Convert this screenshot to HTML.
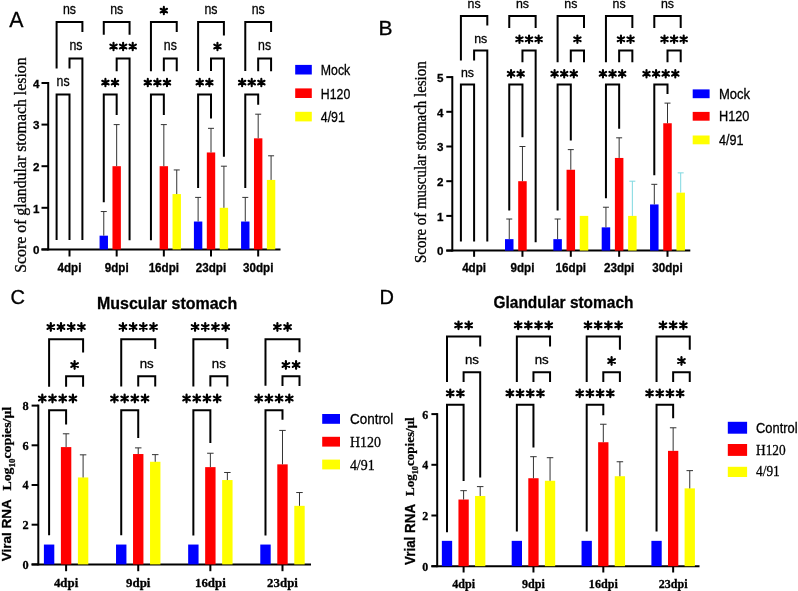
<!DOCTYPE html>
<html><head><meta charset="utf-8"><title>figure</title>
<style>html,body{margin:0;padding:0;background:#fff;}svg{display:block;will-change:transform;}text{stroke:#000;stroke-width:0.3px;}</style></head>
<body><svg width="798" height="591" viewBox="0 0 798 591">
<rect width="798" height="591" fill="#fff"/>
<line x1="48.2" y1="82" x2="48.2" y2="250.4" stroke="#000" stroke-width="2.0"/>
<line x1="41.5" y1="249.4" x2="48.2" y2="249.4" stroke="#000" stroke-width="2.0"/>
<text x="39.4" y="254.1" font-family='"Liberation Sans", sans-serif' font-size="11.6" font-weight="bold" text-anchor="end" >0</text>
<line x1="41.5" y1="207.8" x2="48.2" y2="207.8" stroke="#000" stroke-width="2.0"/>
<text x="39.4" y="212.5" font-family='"Liberation Sans", sans-serif' font-size="11.6" font-weight="bold" text-anchor="end" >1</text>
<line x1="41.5" y1="166.2" x2="48.2" y2="166.2" stroke="#000" stroke-width="2.0"/>
<text x="39.4" y="170.9" font-family='"Liberation Sans", sans-serif' font-size="11.6" font-weight="bold" text-anchor="end" >2</text>
<line x1="41.5" y1="124.6" x2="48.2" y2="124.6" stroke="#000" stroke-width="2.0"/>
<text x="39.4" y="129.3" font-family='"Liberation Sans", sans-serif' font-size="11.6" font-weight="bold" text-anchor="end" >3</text>
<line x1="41.5" y1="83" x2="48.2" y2="83" stroke="#000" stroke-width="2.0"/>
<text x="39.4" y="87.7" font-family='"Liberation Sans", sans-serif' font-size="11.6" font-weight="bold" text-anchor="end" >4</text>
<line x1="41.5" y1="249.4" x2="280.5" y2="249.4" stroke="#000" stroke-width="2.0"/>
<line x1="69.5" y1="249.4" x2="69.5" y2="256.5" stroke="#000" stroke-width="2.0"/>
<text transform="translate(69.5,271.9) scale(0.97,1)" font-family='"Liberation Sans", sans-serif' font-size="12" font-weight="bold" text-anchor="middle" >4dpi</text>
<line x1="116.67" y1="249.4" x2="116.67" y2="256.5" stroke="#000" stroke-width="2.0"/>
<text transform="translate(116.67,271.9) scale(0.97,1)" font-family='"Liberation Sans", sans-serif' font-size="12" font-weight="bold" text-anchor="middle" >9dpi</text>
<line x1="163.84" y1="249.4" x2="163.84" y2="256.5" stroke="#000" stroke-width="2.0"/>
<text transform="translate(163.84,271.9) scale(0.97,1)" font-family='"Liberation Sans", sans-serif' font-size="12" font-weight="bold" text-anchor="middle" >16dpi</text>
<line x1="211.01" y1="249.4" x2="211.01" y2="256.5" stroke="#000" stroke-width="2.0"/>
<text transform="translate(211.01,271.9) scale(0.97,1)" font-family='"Liberation Sans", sans-serif' font-size="12" font-weight="bold" text-anchor="middle" >23dpi</text>
<line x1="258.18" y1="249.4" x2="258.18" y2="256.5" stroke="#000" stroke-width="2.0"/>
<text transform="translate(258.18,271.9) scale(0.97,1)" font-family='"Liberation Sans", sans-serif' font-size="12" font-weight="bold" text-anchor="middle" >30dpi</text>
<rect x="99.57" y="235.67" width="8.4" height="13.73" fill="#0000FF"/>
<line x1="103.77" y1="235.67" x2="103.77" y2="211.54" stroke="#333333" stroke-width="1.0"/>
<line x1="100.77" y1="211.54" x2="106.77" y2="211.54" stroke="#333333" stroke-width="1.0"/>
<rect x="112.47" y="166.2" width="8.4" height="83.2" fill="#FF0000"/>
<line x1="116.67" y1="166.2" x2="116.67" y2="124.6" stroke="#333333" stroke-width="1.0"/>
<line x1="113.67" y1="124.6" x2="119.67" y2="124.6" stroke="#333333" stroke-width="1.0"/>
<rect x="159.64" y="166.2" width="8.4" height="83.2" fill="#FF0000"/>
<line x1="163.84" y1="166.2" x2="163.84" y2="124.6" stroke="#333333" stroke-width="1.0"/>
<line x1="160.84" y1="124.6" x2="166.84" y2="124.6" stroke="#333333" stroke-width="1.0"/>
<rect x="172.54" y="194.07" width="8.4" height="55.33" fill="#FFFF00"/>
<line x1="176.74" y1="194.07" x2="176.74" y2="169.94" stroke="#333333" stroke-width="1.0"/>
<line x1="173.74" y1="169.94" x2="179.74" y2="169.94" stroke="#333333" stroke-width="1.0"/>
<rect x="193.91" y="221.53" width="8.4" height="27.87" fill="#0000FF"/>
<line x1="198.11" y1="221.53" x2="198.11" y2="197.4" stroke="#333333" stroke-width="1.0"/>
<line x1="195.11" y1="197.4" x2="201.11" y2="197.4" stroke="#333333" stroke-width="1.0"/>
<rect x="206.81" y="152.47" width="8.4" height="96.93" fill="#FF0000"/>
<line x1="211.01" y1="152.47" x2="211.01" y2="128.34" stroke="#333333" stroke-width="1.0"/>
<line x1="208.01" y1="128.34" x2="214.01" y2="128.34" stroke="#333333" stroke-width="1.0"/>
<rect x="219.71" y="207.8" width="8.4" height="41.6" fill="#FFFF00"/>
<line x1="223.91" y1="207.8" x2="223.91" y2="166.2" stroke="#333333" stroke-width="1.0"/>
<line x1="220.91" y1="166.2" x2="226.91" y2="166.2" stroke="#333333" stroke-width="1.0"/>
<rect x="241.08" y="221.53" width="8.4" height="27.87" fill="#0000FF"/>
<line x1="245.28" y1="221.53" x2="245.28" y2="197.4" stroke="#333333" stroke-width="1.0"/>
<line x1="242.28" y1="197.4" x2="248.28" y2="197.4" stroke="#333333" stroke-width="1.0"/>
<rect x="253.98" y="138.33" width="8.4" height="111.07" fill="#FF0000"/>
<line x1="258.18" y1="138.33" x2="258.18" y2="114.2" stroke="#333333" stroke-width="1.0"/>
<line x1="255.18" y1="114.2" x2="261.18" y2="114.2" stroke="#333333" stroke-width="1.0"/>
<rect x="266.88" y="179.93" width="8.4" height="69.47" fill="#FFFF00"/>
<line x1="271.08" y1="179.93" x2="271.08" y2="155.8" stroke="#333333" stroke-width="1.0"/>
<line x1="268.08" y1="155.8" x2="274.08" y2="155.8" stroke="#333333" stroke-width="1.0"/>
<path d="M56.6 68.4V22H82.4V32" fill="none" stroke="#000" stroke-width="2.0" stroke-linejoin="miter"/>
<path d="M69.5 68.4V58.6H82.4V240" fill="none" stroke="#000" stroke-width="2.0" stroke-linejoin="miter"/>
<path d="M56.6 240V94.5H69.5V240" fill="none" stroke="#000" stroke-width="2.0" stroke-linejoin="miter"/>
<text transform="translate(69.5,13.6) scale(0.87,1)" font-family='"Liberation Sans", sans-serif' font-size="14.2" font-weight="normal" text-anchor="middle" >ns</text>
<text transform="translate(75.95,49.7) scale(0.87,1)" font-family='"Liberation Sans", sans-serif' font-size="14.2" font-weight="normal" text-anchor="middle" >ns</text>
<text transform="translate(63.05,85.8) scale(0.87,1)" font-family='"Liberation Sans", sans-serif' font-size="14.2" font-weight="normal" text-anchor="middle" >ns</text>
<path d="M103.77 34.7V22H129.57V34.7" fill="none" stroke="#000" stroke-width="2.0" stroke-linejoin="miter"/>
<path d="M116.67 71.2V58.6H129.57V240.2" fill="none" stroke="#000" stroke-width="2.0" stroke-linejoin="miter"/>
<path d="M103.77 202.2V94.5H116.67V114.9" fill="none" stroke="#000" stroke-width="2.0" stroke-linejoin="miter"/>
<text transform="translate(116.67,13.6) scale(0.87,1)" font-family='"Liberation Sans", sans-serif' font-size="14.2" font-weight="normal" text-anchor="middle" >ns</text>
<path d="M113.52 42.8L113.52 50.2M110.32 44.65L116.72 48.35M116.72 44.65L110.32 48.35" stroke="#000" stroke-width="2.1" stroke-linecap="round" fill="none"/>
<path d="M123.12 42.8L123.12 50.2M119.92 44.65L126.32 48.35M126.32 44.65L119.92 48.35" stroke="#000" stroke-width="2.1" stroke-linecap="round" fill="none"/>
<path d="M132.72 42.8L132.72 50.2M129.52 44.65L135.92 48.35M135.92 44.65L129.52 48.35" stroke="#000" stroke-width="2.1" stroke-linecap="round" fill="none"/>
<path d="M105.42 78.9L105.42 86.3M102.22 80.75L108.62 84.45M108.62 80.75L102.22 84.45" stroke="#000" stroke-width="2.1" stroke-linecap="round" fill="none"/>
<path d="M115.02 78.9L115.02 86.3M111.82 80.75L118.22 84.45M118.22 80.75L111.82 84.45" stroke="#000" stroke-width="2.1" stroke-linecap="round" fill="none"/>
<path d="M150.94 71.3V22H176.74V32" fill="none" stroke="#000" stroke-width="2.0" stroke-linejoin="miter"/>
<path d="M163.84 71.3V58.6H176.74V71.3" fill="none" stroke="#000" stroke-width="2.0" stroke-linejoin="miter"/>
<path d="M150.94 240.2V94.5H163.84V115" fill="none" stroke="#000" stroke-width="2.0" stroke-linejoin="miter"/>
<path d="M163.84 6.9L163.84 14.3M160.64 8.75L167.04 12.45M167.04 8.75L160.64 12.45" stroke="#000" stroke-width="2.1" stroke-linecap="round" fill="none"/>
<text transform="translate(170.29,49.7) scale(0.87,1)" font-family='"Liberation Sans", sans-serif' font-size="14.2" font-weight="normal" text-anchor="middle" >ns</text>
<path d="M147.79 78.9L147.79 86.3M144.59 80.75L150.99 84.45M150.99 80.75L144.59 84.45" stroke="#000" stroke-width="2.1" stroke-linecap="round" fill="none"/>
<path d="M157.39 78.9L157.39 86.3M154.19 80.75L160.59 84.45M160.59 80.75L154.19 84.45" stroke="#000" stroke-width="2.1" stroke-linecap="round" fill="none"/>
<path d="M166.99 78.9L166.99 86.3M163.79 80.75L170.19 84.45M170.19 80.75L163.79 84.45" stroke="#000" stroke-width="2.1" stroke-linecap="round" fill="none"/>
<path d="M198.11 71V22H223.91V35.5" fill="none" stroke="#000" stroke-width="2.0" stroke-linejoin="miter"/>
<path d="M211.01 71V58.6H223.91V156.7" fill="none" stroke="#000" stroke-width="2.0" stroke-linejoin="miter"/>
<path d="M198.11 188V94.5H211.01V118.6" fill="none" stroke="#000" stroke-width="2.0" stroke-linejoin="miter"/>
<text transform="translate(211.01,13.6) scale(0.87,1)" font-family='"Liberation Sans", sans-serif' font-size="14.2" font-weight="normal" text-anchor="middle" >ns</text>
<path d="M217.46 42.8L217.46 50.2M214.26 44.65L220.66 48.35M220.66 44.65L214.26 48.35" stroke="#000" stroke-width="2.1" stroke-linecap="round" fill="none"/>
<path d="M199.76 78.9L199.76 86.3M196.56 80.75L202.96 84.45M202.96 80.75L196.56 84.45" stroke="#000" stroke-width="2.1" stroke-linecap="round" fill="none"/>
<path d="M209.36 78.9L209.36 86.3M206.16 80.75L212.56 84.45M212.56 80.75L206.16 84.45" stroke="#000" stroke-width="2.1" stroke-linecap="round" fill="none"/>
<path d="M245.28 71V22H271.08V32" fill="none" stroke="#000" stroke-width="2.0" stroke-linejoin="miter"/>
<path d="M258.18 71.3V58.6H271.08V71.3" fill="none" stroke="#000" stroke-width="2.0" stroke-linejoin="miter"/>
<path d="M245.28 188V94.5H258.18V104.8" fill="none" stroke="#000" stroke-width="2.0" stroke-linejoin="miter"/>
<text transform="translate(258.18,13.6) scale(0.87,1)" font-family='"Liberation Sans", sans-serif' font-size="14.2" font-weight="normal" text-anchor="middle" >ns</text>
<text transform="translate(264.63,49.7) scale(0.87,1)" font-family='"Liberation Sans", sans-serif' font-size="14.2" font-weight="normal" text-anchor="middle" >ns</text>
<path d="M242.13 78.9L242.13 86.3M238.93 80.75L245.33 84.45M245.33 80.75L238.93 84.45" stroke="#000" stroke-width="2.1" stroke-linecap="round" fill="none"/>
<path d="M251.73 78.9L251.73 86.3M248.53 80.75L254.93 84.45M254.93 80.75L248.53 84.45" stroke="#000" stroke-width="2.1" stroke-linecap="round" fill="none"/>
<path d="M261.33 78.9L261.33 86.3M258.13 80.75L264.53 84.45M264.53 80.75L258.13 84.45" stroke="#000" stroke-width="2.1" stroke-linecap="round" fill="none"/>
<rect x="295.2" y="64.9" width="16.6" height="9.6" fill="#0000FF"/>
<text transform="translate(320.8,75) scale(0.88,1)" font-family='"Liberation Sans", sans-serif' font-size="14" font-weight="normal" text-anchor="start" >Mock</text>
<rect x="295.2" y="88.4" width="16.6" height="9.6" fill="#FF0000"/>
<text transform="translate(320.8,98.5) scale(0.88,1)" font-family='"Liberation Sans", sans-serif' font-size="14" font-weight="normal" text-anchor="start" >H120</text>
<rect x="295.2" y="111.8" width="16.6" height="9.6" fill="#FFFF00"/>
<text transform="translate(320.8,121.9) scale(0.885,1)" font-family='"Liberation Sans", sans-serif' font-size="14" font-weight="normal" text-anchor="start" >4/91</text>
<text x="9.2" y="27" font-family='"Liberation Sans", sans-serif' font-size="21.3" font-weight="normal" text-anchor="start" >A</text>
<text transform="translate(26.4,272.8) rotate(-90) scale(0.978,1.0)" font-family='"Liberation Serif", serif' font-size="16.2" font-weight="normal">Score of glandular stomach lesion</text>
<line x1="452.3" y1="76.1" x2="452.3" y2="251.6" stroke="#000" stroke-width="2.0"/>
<line x1="446.3" y1="250.6" x2="452.3" y2="250.6" stroke="#000" stroke-width="2.0"/>
<text x="443.4" y="255.3" font-family='"Liberation Sans", sans-serif' font-size="11.6" font-weight="bold" text-anchor="end" >0</text>
<line x1="446.3" y1="215.9" x2="452.3" y2="215.9" stroke="#000" stroke-width="2.0"/>
<text x="443.4" y="220.6" font-family='"Liberation Sans", sans-serif' font-size="11.6" font-weight="bold" text-anchor="end" >1</text>
<line x1="446.3" y1="181.2" x2="452.3" y2="181.2" stroke="#000" stroke-width="2.0"/>
<text x="443.4" y="185.9" font-family='"Liberation Sans", sans-serif' font-size="11.6" font-weight="bold" text-anchor="end" >2</text>
<line x1="446.3" y1="146.5" x2="452.3" y2="146.5" stroke="#000" stroke-width="2.0"/>
<text x="443.4" y="151.2" font-family='"Liberation Sans", sans-serif' font-size="11.6" font-weight="bold" text-anchor="end" >3</text>
<line x1="446.3" y1="111.8" x2="452.3" y2="111.8" stroke="#000" stroke-width="2.0"/>
<text x="443.4" y="116.5" font-family='"Liberation Sans", sans-serif' font-size="11.6" font-weight="bold" text-anchor="end" >4</text>
<line x1="446.3" y1="77.1" x2="452.3" y2="77.1" stroke="#000" stroke-width="2.0"/>
<text x="443.4" y="81.8" font-family='"Liberation Sans", sans-serif' font-size="11.6" font-weight="bold" text-anchor="end" >5</text>
<line x1="446.3" y1="250.6" x2="690.3" y2="250.6" stroke="#000" stroke-width="2.0"/>
<line x1="474.1" y1="250.6" x2="474.1" y2="256.8" stroke="#000" stroke-width="2.0"/>
<text transform="translate(474.1,271.9) scale(0.97,1)" font-family='"Liberation Sans", sans-serif' font-size="12" font-weight="bold" text-anchor="middle" >4dpi</text>
<line x1="522.45" y1="250.6" x2="522.45" y2="256.8" stroke="#000" stroke-width="2.0"/>
<text transform="translate(522.45,271.9) scale(0.97,1)" font-family='"Liberation Sans", sans-serif' font-size="12" font-weight="bold" text-anchor="middle" >9dpi</text>
<line x1="570.8" y1="250.6" x2="570.8" y2="256.8" stroke="#000" stroke-width="2.0"/>
<text transform="translate(570.8,271.9) scale(0.97,1)" font-family='"Liberation Sans", sans-serif' font-size="12" font-weight="bold" text-anchor="middle" >16dpi</text>
<line x1="619.15" y1="250.6" x2="619.15" y2="256.8" stroke="#000" stroke-width="2.0"/>
<text transform="translate(619.15,271.9) scale(0.97,1)" font-family='"Liberation Sans", sans-serif' font-size="12" font-weight="bold" text-anchor="middle" >23dpi</text>
<line x1="667.5" y1="250.6" x2="667.5" y2="256.8" stroke="#000" stroke-width="2.0"/>
<text transform="translate(667.5,271.9) scale(0.97,1)" font-family='"Liberation Sans", sans-serif' font-size="12" font-weight="bold" text-anchor="middle" >30dpi</text>
<rect x="505" y="239.15" width="8.5" height="11.45" fill="#0000FF"/>
<line x1="509.25" y1="239.15" x2="509.25" y2="219.02" stroke="#333333" stroke-width="1.0"/>
<line x1="506.25" y1="219.02" x2="512.25" y2="219.02" stroke="#333333" stroke-width="1.0"/>
<rect x="518.2" y="181.2" width="8.5" height="69.4" fill="#FF0000"/>
<line x1="522.45" y1="181.2" x2="522.45" y2="146.5" stroke="#333333" stroke-width="1.0"/>
<line x1="519.45" y1="146.5" x2="525.45" y2="146.5" stroke="#333333" stroke-width="1.0"/>
<rect x="553.35" y="239.15" width="8.5" height="11.45" fill="#0000FF"/>
<line x1="557.6" y1="239.15" x2="557.6" y2="219.02" stroke="#333333" stroke-width="1.0"/>
<line x1="554.6" y1="219.02" x2="560.6" y2="219.02" stroke="#333333" stroke-width="1.0"/>
<rect x="566.55" y="169.75" width="8.5" height="80.85" fill="#FF0000"/>
<line x1="570.8" y1="169.75" x2="570.8" y2="149.62" stroke="#333333" stroke-width="1.0"/>
<line x1="567.8" y1="149.62" x2="573.8" y2="149.62" stroke="#333333" stroke-width="1.0"/>
<rect x="579.75" y="215.9" width="8.5" height="34.7" fill="#FFFF00"/>
<rect x="601.7" y="227.35" width="8.5" height="23.25" fill="#0000FF"/>
<line x1="605.95" y1="227.35" x2="605.95" y2="207.22" stroke="#333333" stroke-width="1.0"/>
<line x1="602.95" y1="207.22" x2="608.95" y2="207.22" stroke="#333333" stroke-width="1.0"/>
<rect x="614.9" y="157.95" width="8.5" height="92.65" fill="#FF0000"/>
<line x1="619.15" y1="157.95" x2="619.15" y2="137.82" stroke="#333333" stroke-width="1.0"/>
<line x1="616.15" y1="137.82" x2="622.15" y2="137.82" stroke="#333333" stroke-width="1.0"/>
<rect x="628.1" y="215.9" width="8.5" height="34.7" fill="#FFFF00"/>
<line x1="632.35" y1="215.9" x2="632.35" y2="181.2" stroke="#7fd8e0" stroke-width="1.0"/>
<line x1="629.35" y1="181.2" x2="635.35" y2="181.2" stroke="#7fd8e0" stroke-width="1.0"/>
<rect x="650.05" y="204.45" width="8.5" height="46.15" fill="#0000FF"/>
<line x1="654.3" y1="204.45" x2="654.3" y2="184.32" stroke="#333333" stroke-width="1.0"/>
<line x1="651.3" y1="184.32" x2="657.3" y2="184.32" stroke="#333333" stroke-width="1.0"/>
<rect x="663.25" y="123.25" width="8.5" height="127.35" fill="#FF0000"/>
<line x1="667.5" y1="123.25" x2="667.5" y2="103.12" stroke="#333333" stroke-width="1.0"/>
<line x1="664.5" y1="103.12" x2="670.5" y2="103.12" stroke="#333333" stroke-width="1.0"/>
<rect x="676.45" y="192.65" width="8.5" height="57.95" fill="#FFFF00"/>
<line x1="680.7" y1="192.65" x2="680.7" y2="172.87" stroke="#7fd8e0" stroke-width="1.0"/>
<line x1="677.7" y1="172.87" x2="683.7" y2="172.87" stroke="#7fd8e0" stroke-width="1.0"/>
<path d="M460.9 60.5V16.1H487.3V25.4" fill="none" stroke="#000" stroke-width="2.0" stroke-linejoin="miter"/>
<path d="M474.1 60.5V50.4H487.3V241.6" fill="none" stroke="#000" stroke-width="2.0" stroke-linejoin="miter"/>
<path d="M460.9 241.6V84.6H474.1V241.6" fill="none" stroke="#000" stroke-width="2.0" stroke-linejoin="miter"/>
<text transform="translate(474.1,8.1) scale(0.96,1)" font-family='"Liberation Sans", sans-serif' font-size="12.9" font-weight="normal" text-anchor="middle" >ns</text>
<text transform="translate(480.7,42.6) scale(0.96,1)" font-family='"Liberation Sans", sans-serif' font-size="12.9" font-weight="normal" text-anchor="middle" >ns</text>
<text transform="translate(467.5,76.8) scale(0.96,1)" font-family='"Liberation Sans", sans-serif' font-size="12.9" font-weight="normal" text-anchor="middle" >ns</text>
<path d="M509.25 27.9V16.1H535.65V27.9" fill="none" stroke="#000" stroke-width="2.0" stroke-linejoin="miter"/>
<path d="M522.45 62.3V50.4H535.65V242.3" fill="none" stroke="#000" stroke-width="2.0" stroke-linejoin="miter"/>
<path d="M509.25 210.5V84.6H522.45V137.2" fill="none" stroke="#000" stroke-width="2.0" stroke-linejoin="miter"/>
<text transform="translate(522.45,8.1) scale(0.96,1)" font-family='"Liberation Sans", sans-serif' font-size="12.9" font-weight="normal" text-anchor="middle" >ns</text>
<path d="M519.45 35.6L519.45 43M516.25 37.45L522.65 41.15M522.65 37.45L516.25 41.15" stroke="#000" stroke-width="2.1" stroke-linecap="round" fill="none"/>
<path d="M529.05 35.6L529.05 43M525.85 37.45L532.25 41.15M532.25 37.45L525.85 41.15" stroke="#000" stroke-width="2.1" stroke-linecap="round" fill="none"/>
<path d="M538.65 35.6L538.65 43M535.45 37.45L541.85 41.15M541.85 37.45L535.45 41.15" stroke="#000" stroke-width="2.1" stroke-linecap="round" fill="none"/>
<path d="M511.05 70.1L511.05 77.5M507.85 71.95L514.25 75.65M514.25 71.95L507.85 75.65" stroke="#000" stroke-width="2.1" stroke-linecap="round" fill="none"/>
<path d="M520.65 70.1L520.65 77.5M517.45 71.95L523.85 75.65M523.85 71.95L517.45 75.65" stroke="#000" stroke-width="2.1" stroke-linecap="round" fill="none"/>
<path d="M557.6 62.3V16.1H584V27.9" fill="none" stroke="#000" stroke-width="2.0" stroke-linejoin="miter"/>
<path d="M570.8 62.3V50.4H584V62.3" fill="none" stroke="#000" stroke-width="2.0" stroke-linejoin="miter"/>
<path d="M557.6 210.5V84.6H570.8V140.6" fill="none" stroke="#000" stroke-width="2.0" stroke-linejoin="miter"/>
<text transform="translate(570.8,8.1) scale(0.96,1)" font-family='"Liberation Sans", sans-serif' font-size="12.9" font-weight="normal" text-anchor="middle" >ns</text>
<path d="M577.4 35.6L577.4 43M574.2 37.45L580.6 41.15M580.6 37.45L574.2 41.15" stroke="#000" stroke-width="2.1" stroke-linecap="round" fill="none"/>
<path d="M554.6 70.1L554.6 77.5M551.4 71.95L557.8 75.65M557.8 71.95L551.4 75.65" stroke="#000" stroke-width="2.1" stroke-linecap="round" fill="none"/>
<path d="M564.2 70.1L564.2 77.5M561 71.95L567.4 75.65M567.4 71.95L561 75.65" stroke="#000" stroke-width="2.1" stroke-linecap="round" fill="none"/>
<path d="M573.8 70.1L573.8 77.5M570.6 71.95L577 75.65M577 71.95L570.6 75.65" stroke="#000" stroke-width="2.1" stroke-linecap="round" fill="none"/>
<path d="M605.95 62.3V16.1H632.35V27.9" fill="none" stroke="#000" stroke-width="2.0" stroke-linejoin="miter"/>
<path d="M619.15 62.3V50.4H632.35V62.3" fill="none" stroke="#000" stroke-width="2.0" stroke-linejoin="miter"/>
<path d="M605.95 198.2V84.6H619.15V128.8" fill="none" stroke="#000" stroke-width="2.0" stroke-linejoin="miter"/>
<text transform="translate(619.15,8.1) scale(0.96,1)" font-family='"Liberation Sans", sans-serif' font-size="12.9" font-weight="normal" text-anchor="middle" >ns</text>
<path d="M620.95 35.6L620.95 43M617.75 37.45L624.15 41.15M624.15 37.45L617.75 41.15" stroke="#000" stroke-width="2.1" stroke-linecap="round" fill="none"/>
<path d="M630.55 35.6L630.55 43M627.35 37.45L633.75 41.15M633.75 37.45L627.35 41.15" stroke="#000" stroke-width="2.1" stroke-linecap="round" fill="none"/>
<path d="M602.95 70.1L602.95 77.5M599.75 71.95L606.15 75.65M606.15 71.95L599.75 75.65" stroke="#000" stroke-width="2.1" stroke-linecap="round" fill="none"/>
<path d="M612.55 70.1L612.55 77.5M609.35 71.95L615.75 75.65M615.75 71.95L609.35 75.65" stroke="#000" stroke-width="2.1" stroke-linecap="round" fill="none"/>
<path d="M622.15 70.1L622.15 77.5M618.95 71.95L625.35 75.65M625.35 71.95L618.95 75.65" stroke="#000" stroke-width="2.1" stroke-linecap="round" fill="none"/>
<path d="M654.3 27.9V16.1H680.7V27.9" fill="none" stroke="#000" stroke-width="2.0" stroke-linejoin="miter"/>
<path d="M667.5 62.3V50.4H680.7V62.3" fill="none" stroke="#000" stroke-width="2.0" stroke-linejoin="miter"/>
<path d="M654.3 175.3V84.6H667.5V93.9" fill="none" stroke="#000" stroke-width="2.0" stroke-linejoin="miter"/>
<text transform="translate(667.5,8.1) scale(0.96,1)" font-family='"Liberation Sans", sans-serif' font-size="12.9" font-weight="normal" text-anchor="middle" >ns</text>
<path d="M664.5 35.6L664.5 43M661.3 37.45L667.7 41.15M667.7 37.45L661.3 41.15" stroke="#000" stroke-width="2.1" stroke-linecap="round" fill="none"/>
<path d="M674.1 35.6L674.1 43M670.9 37.45L677.3 41.15M677.3 37.45L670.9 41.15" stroke="#000" stroke-width="2.1" stroke-linecap="round" fill="none"/>
<path d="M683.7 35.6L683.7 43M680.5 37.45L686.9 41.15M686.9 37.45L680.5 41.15" stroke="#000" stroke-width="2.1" stroke-linecap="round" fill="none"/>
<path d="M646.5 70.1L646.5 77.5M643.3 71.95L649.7 75.65M649.7 71.95L643.3 75.65" stroke="#000" stroke-width="2.1" stroke-linecap="round" fill="none"/>
<path d="M656.1 70.1L656.1 77.5M652.9 71.95L659.3 75.65M659.3 71.95L652.9 75.65" stroke="#000" stroke-width="2.1" stroke-linecap="round" fill="none"/>
<path d="M665.7 70.1L665.7 77.5M662.5 71.95L668.9 75.65M668.9 71.95L662.5 75.65" stroke="#000" stroke-width="2.1" stroke-linecap="round" fill="none"/>
<path d="M675.3 70.1L675.3 77.5M672.1 71.95L678.5 75.65M678.5 71.95L672.1 75.65" stroke="#000" stroke-width="2.1" stroke-linecap="round" fill="none"/>
<rect x="692.7" y="89.4" width="16.9" height="8.8" fill="#0000FF"/>
<text transform="translate(719,98.9) scale(0.93,1)" font-family='"Liberation Sans", sans-serif' font-size="14" font-weight="normal" text-anchor="start" >Mock</text>
<rect x="692.7" y="111.9" width="16.9" height="8.8" fill="#FF0000"/>
<text transform="translate(719,121.4) scale(0.91,1)" font-family='"Liberation Sans", sans-serif' font-size="14" font-weight="normal" text-anchor="start" >H120</text>
<rect x="692.7" y="135.5" width="16.9" height="8.8" fill="#FFFF00"/>
<text transform="translate(719,145) scale(0.9,1)" font-family='"Liberation Sans", sans-serif' font-size="14" font-weight="normal" text-anchor="start" >4/91</text>
<text x="378.6" y="34.8" font-family='"Liberation Sans", sans-serif' font-size="21" font-weight="normal" text-anchor="start" >B</text>
<text transform="translate(426.3,263) rotate(-90) scale(0.923,1.0)" font-family='"Liberation Serif", serif' font-size="16.2" font-weight="normal">Score of muscular stomach lesion</text>
<line x1="38.3" y1="404.6" x2="38.3" y2="565.4" stroke="#000" stroke-width="2.0"/>
<line x1="31.6" y1="564.4" x2="38.3" y2="564.4" stroke="#000" stroke-width="2.0"/>
<text transform="translate(28.6,568.6) scale(0.95,1)" font-family='"Liberation Serif", serif' font-size="13" font-weight="bold" text-anchor="end" >0</text>
<line x1="31.6" y1="524.7" x2="38.3" y2="524.7" stroke="#000" stroke-width="2.0"/>
<text transform="translate(28.6,528.9) scale(0.95,1)" font-family='"Liberation Serif", serif' font-size="13" font-weight="bold" text-anchor="end" >2</text>
<line x1="31.6" y1="485" x2="38.3" y2="485" stroke="#000" stroke-width="2.0"/>
<text transform="translate(28.6,489.2) scale(0.95,1)" font-family='"Liberation Serif", serif' font-size="13" font-weight="bold" text-anchor="end" >4</text>
<line x1="31.6" y1="445.3" x2="38.3" y2="445.3" stroke="#000" stroke-width="2.0"/>
<text transform="translate(28.6,449.5) scale(0.95,1)" font-family='"Liberation Serif", serif' font-size="13" font-weight="bold" text-anchor="end" >6</text>
<line x1="31.6" y1="405.6" x2="38.3" y2="405.6" stroke="#000" stroke-width="2.0"/>
<text transform="translate(28.6,409.8) scale(0.95,1)" font-family='"Liberation Serif", serif' font-size="13" font-weight="bold" text-anchor="end" >8</text>
<line x1="31.6" y1="564.4" x2="311" y2="564.4" stroke="#000" stroke-width="2.0"/>
<line x1="66.1" y1="564.4" x2="66.1" y2="571.2" stroke="#000" stroke-width="2.0"/>
<text transform="translate(66.1,586.7) scale(0.97,1)" font-family='"Liberation Serif", serif' font-size="13.3" font-weight="bold" text-anchor="middle" >4dpi</text>
<line x1="138.23" y1="564.4" x2="138.23" y2="571.2" stroke="#000" stroke-width="2.0"/>
<text transform="translate(138.23,586.7) scale(0.97,1)" font-family='"Liberation Serif", serif' font-size="13.3" font-weight="bold" text-anchor="middle" >9dpi</text>
<line x1="210.36" y1="564.4" x2="210.36" y2="571.2" stroke="#000" stroke-width="2.0"/>
<text transform="translate(210.36,586.7) scale(0.97,1)" font-family='"Liberation Serif", serif' font-size="13.3" font-weight="bold" text-anchor="middle" >16dpi</text>
<line x1="282.49" y1="564.4" x2="282.49" y2="571.2" stroke="#000" stroke-width="2.0"/>
<text transform="translate(282.49,586.7) scale(0.97,1)" font-family='"Liberation Serif", serif' font-size="13.3" font-weight="bold" text-anchor="middle" >23dpi</text>
<rect x="43.9" y="544.55" width="10.4" height="19.85" fill="#0000FF"/>
<rect x="60.9" y="447.09" width="10.4" height="117.31" fill="#FF0000"/>
<line x1="66.1" y1="447.09" x2="66.1" y2="433.79" stroke="#333333" stroke-width="1.0"/>
<line x1="62.85" y1="433.79" x2="69.35" y2="433.79" stroke="#333333" stroke-width="1.0"/>
<rect x="77.9" y="477.46" width="10.4" height="86.94" fill="#FFFF00"/>
<line x1="83.1" y1="477.46" x2="83.1" y2="454.83" stroke="#333333" stroke-width="1.0"/>
<line x1="79.85" y1="454.83" x2="86.35" y2="454.83" stroke="#333333" stroke-width="1.0"/>
<rect x="116.03" y="544.55" width="10.4" height="19.85" fill="#0000FF"/>
<rect x="133.03" y="454.03" width="10.4" height="110.37" fill="#FF0000"/>
<line x1="138.23" y1="454.03" x2="138.23" y2="447.88" stroke="#333333" stroke-width="1.0"/>
<line x1="134.98" y1="447.88" x2="141.48" y2="447.88" stroke="#333333" stroke-width="1.0"/>
<rect x="150.03" y="461.78" width="10.4" height="102.62" fill="#FFFF00"/>
<line x1="155.23" y1="461.78" x2="155.23" y2="454.63" stroke="#333333" stroke-width="1.0"/>
<line x1="151.98" y1="454.63" x2="158.48" y2="454.63" stroke="#333333" stroke-width="1.0"/>
<rect x="188.16" y="544.55" width="10.4" height="19.85" fill="#0000FF"/>
<rect x="205.16" y="467.13" width="10.4" height="97.26" fill="#FF0000"/>
<line x1="210.36" y1="467.13" x2="210.36" y2="453.24" stroke="#333333" stroke-width="1.0"/>
<line x1="207.11" y1="453.24" x2="213.61" y2="453.24" stroke="#333333" stroke-width="1.0"/>
<rect x="222.16" y="480.04" width="10.4" height="84.36" fill="#FFFF00"/>
<line x1="227.36" y1="480.04" x2="227.36" y2="472.49" stroke="#333333" stroke-width="1.0"/>
<line x1="224.11" y1="472.49" x2="230.61" y2="472.49" stroke="#333333" stroke-width="1.0"/>
<rect x="260.29" y="544.55" width="10.4" height="19.85" fill="#0000FF"/>
<rect x="277.29" y="464.36" width="10.4" height="100.04" fill="#FF0000"/>
<line x1="282.49" y1="464.36" x2="282.49" y2="430.41" stroke="#333333" stroke-width="1.0"/>
<line x1="279.24" y1="430.41" x2="285.74" y2="430.41" stroke="#333333" stroke-width="1.0"/>
<rect x="294.29" y="505.84" width="10.4" height="58.56" fill="#FFFF00"/>
<line x1="299.49" y1="505.84" x2="299.49" y2="492.54" stroke="#333333" stroke-width="1.0"/>
<line x1="296.24" y1="492.54" x2="302.74" y2="492.54" stroke="#333333" stroke-width="1.0"/>
<path d="M49.1 386.7V339.2H83.1V352.4" fill="none" stroke="#000" stroke-width="2.0" stroke-linejoin="miter"/>
<path d="M66.1 386.7V376.2H83.1V386.7" fill="none" stroke="#000" stroke-width="2.0" stroke-linejoin="miter"/>
<path d="M49.1 535.3V410.2H66.1V424.5" fill="none" stroke="#000" stroke-width="2.0" stroke-linejoin="miter"/>
<path d="M50.8 323.2L50.8 330.8M47.51 325.1L54.09 328.9M54.09 325.1L47.51 328.9" stroke="#000" stroke-width="2.2" stroke-linecap="round" fill="none"/>
<path d="M61 323.2L61 330.8M57.71 325.1L64.29 328.9M64.29 325.1L57.71 328.9" stroke="#000" stroke-width="2.2" stroke-linecap="round" fill="none"/>
<path d="M71.2 323.2L71.2 330.8M67.91 325.1L74.49 328.9M74.49 325.1L67.91 328.9" stroke="#000" stroke-width="2.2" stroke-linecap="round" fill="none"/>
<path d="M81.4 323.2L81.4 330.8M78.11 325.1L84.69 328.9M84.69 325.1L78.11 328.9" stroke="#000" stroke-width="2.2" stroke-linecap="round" fill="none"/>
<path d="M74.6 361.2L74.6 368.8M71.31 363.1L77.89 366.9M77.89 363.1L71.31 366.9" stroke="#000" stroke-width="2.2" stroke-linecap="round" fill="none"/>
<path d="M42.3 394.7L42.3 402.3M39.01 396.6L45.59 400.4M45.59 396.6L39.01 400.4" stroke="#000" stroke-width="2.2" stroke-linecap="round" fill="none"/>
<path d="M52.5 394.7L52.5 402.3M49.21 396.6L55.79 400.4M55.79 396.6L49.21 400.4" stroke="#000" stroke-width="2.2" stroke-linecap="round" fill="none"/>
<path d="M62.7 394.7L62.7 402.3M59.41 396.6L65.99 400.4M65.99 396.6L59.41 400.4" stroke="#000" stroke-width="2.2" stroke-linecap="round" fill="none"/>
<path d="M72.9 394.7L72.9 402.3M69.61 396.6L76.19 400.4M76.19 396.6L69.61 400.4" stroke="#000" stroke-width="2.2" stroke-linecap="round" fill="none"/>
<path d="M121.23 386.5V339.2H155.23V349.1" fill="none" stroke="#000" stroke-width="2.0" stroke-linejoin="miter"/>
<path d="M138.23 386.5V376.2H155.23V386.5" fill="none" stroke="#000" stroke-width="2.0" stroke-linejoin="miter"/>
<path d="M121.23 535.3V410.2H138.23V438" fill="none" stroke="#000" stroke-width="2.0" stroke-linejoin="miter"/>
<path d="M122.93 323.2L122.93 330.8M119.64 325.1L126.22 328.9M126.22 325.1L119.64 328.9" stroke="#000" stroke-width="2.2" stroke-linecap="round" fill="none"/>
<path d="M133.13 323.2L133.13 330.8M129.84 325.1L136.42 328.9M136.42 325.1L129.84 328.9" stroke="#000" stroke-width="2.2" stroke-linecap="round" fill="none"/>
<path d="M143.33 323.2L143.33 330.8M140.04 325.1L146.62 328.9M146.62 325.1L140.04 328.9" stroke="#000" stroke-width="2.2" stroke-linecap="round" fill="none"/>
<path d="M153.53 323.2L153.53 330.8M150.24 325.1L156.82 328.9M156.82 325.1L150.24 328.9" stroke="#000" stroke-width="2.2" stroke-linecap="round" fill="none"/>
<text transform="translate(146.73,367.9) scale(0.99,1)" font-family='"Liberation Sans", sans-serif' font-size="13.4" font-weight="normal" text-anchor="middle" >ns</text>
<path d="M114.43 394.7L114.43 402.3M111.14 396.6L117.72 400.4M117.72 396.6L111.14 400.4" stroke="#000" stroke-width="2.2" stroke-linecap="round" fill="none"/>
<path d="M124.63 394.7L124.63 402.3M121.34 396.6L127.92 400.4M127.92 396.6L121.34 400.4" stroke="#000" stroke-width="2.2" stroke-linecap="round" fill="none"/>
<path d="M134.83 394.7L134.83 402.3M131.54 396.6L138.12 400.4M138.12 396.6L131.54 400.4" stroke="#000" stroke-width="2.2" stroke-linecap="round" fill="none"/>
<path d="M145.03 394.7L145.03 402.3M141.74 396.6L148.32 400.4M148.32 396.6L141.74 400.4" stroke="#000" stroke-width="2.2" stroke-linecap="round" fill="none"/>
<path d="M193.36 386.5V339.2H227.36V349.1" fill="none" stroke="#000" stroke-width="2.0" stroke-linejoin="miter"/>
<path d="M210.36 386.5V376.2H227.36V386.5" fill="none" stroke="#000" stroke-width="2.0" stroke-linejoin="miter"/>
<path d="M193.36 535.5V410.2H210.36V443.1" fill="none" stroke="#000" stroke-width="2.0" stroke-linejoin="miter"/>
<path d="M195.06 323.2L195.06 330.8M191.77 325.1L198.35 328.9M198.35 325.1L191.77 328.9" stroke="#000" stroke-width="2.2" stroke-linecap="round" fill="none"/>
<path d="M205.26 323.2L205.26 330.8M201.97 325.1L208.55 328.9M208.55 325.1L201.97 328.9" stroke="#000" stroke-width="2.2" stroke-linecap="round" fill="none"/>
<path d="M215.46 323.2L215.46 330.8M212.17 325.1L218.75 328.9M218.75 325.1L212.17 328.9" stroke="#000" stroke-width="2.2" stroke-linecap="round" fill="none"/>
<path d="M225.66 323.2L225.66 330.8M222.37 325.1L228.95 328.9M228.95 325.1L222.37 328.9" stroke="#000" stroke-width="2.2" stroke-linecap="round" fill="none"/>
<text transform="translate(218.86,367.9) scale(0.99,1)" font-family='"Liberation Sans", sans-serif' font-size="13.4" font-weight="normal" text-anchor="middle" >ns</text>
<path d="M186.56 394.7L186.56 402.3M183.27 396.6L189.85 400.4M189.85 396.6L183.27 400.4" stroke="#000" stroke-width="2.2" stroke-linecap="round" fill="none"/>
<path d="M196.76 394.7L196.76 402.3M193.47 396.6L200.05 400.4M200.05 396.6L193.47 400.4" stroke="#000" stroke-width="2.2" stroke-linecap="round" fill="none"/>
<path d="M206.96 394.7L206.96 402.3M203.67 396.6L210.25 400.4M210.25 396.6L203.67 400.4" stroke="#000" stroke-width="2.2" stroke-linecap="round" fill="none"/>
<path d="M217.16 394.7L217.16 402.3M213.87 396.6L220.45 400.4M220.45 396.6L213.87 400.4" stroke="#000" stroke-width="2.2" stroke-linecap="round" fill="none"/>
<path d="M265.49 385.7V339.2H299.49V352.2" fill="none" stroke="#000" stroke-width="2.0" stroke-linejoin="miter"/>
<path d="M282.49 386V376.2H299.49V386" fill="none" stroke="#000" stroke-width="2.0" stroke-linejoin="miter"/>
<path d="M265.49 535.5V410.2H282.49V419.8" fill="none" stroke="#000" stroke-width="2.0" stroke-linejoin="miter"/>
<path d="M277.39 323.2L277.39 330.8M274.1 325.1L280.68 328.9M280.68 325.1L274.1 328.9" stroke="#000" stroke-width="2.2" stroke-linecap="round" fill="none"/>
<path d="M287.59 323.2L287.59 330.8M284.3 325.1L290.88 328.9M290.88 325.1L284.3 328.9" stroke="#000" stroke-width="2.2" stroke-linecap="round" fill="none"/>
<path d="M285.89 361.2L285.89 368.8M282.6 363.1L289.18 366.9M289.18 363.1L282.6 366.9" stroke="#000" stroke-width="2.2" stroke-linecap="round" fill="none"/>
<path d="M296.09 361.2L296.09 368.8M292.8 363.1L299.38 366.9M299.38 363.1L292.8 366.9" stroke="#000" stroke-width="2.2" stroke-linecap="round" fill="none"/>
<path d="M258.69 394.7L258.69 402.3M255.4 396.6L261.98 400.4M261.98 396.6L255.4 400.4" stroke="#000" stroke-width="2.2" stroke-linecap="round" fill="none"/>
<path d="M268.89 394.7L268.89 402.3M265.6 396.6L272.18 400.4M272.18 396.6L265.6 400.4" stroke="#000" stroke-width="2.2" stroke-linecap="round" fill="none"/>
<path d="M279.09 394.7L279.09 402.3M275.8 396.6L282.38 400.4M282.38 396.6L275.8 400.4" stroke="#000" stroke-width="2.2" stroke-linecap="round" fill="none"/>
<path d="M289.29 394.7L289.29 402.3M286 396.6L292.58 400.4M292.58 396.6L286 400.4" stroke="#000" stroke-width="2.2" stroke-linecap="round" fill="none"/>
<rect x="322.2" y="414" width="17.8" height="9.8" fill="#0000FF"/>
<text transform="translate(349.9,424.2) scale(0.93,1)" font-family='"Liberation Sans", sans-serif' font-size="14.5" font-weight="normal" text-anchor="start" >Control</text>
<rect x="322.2" y="436.8" width="17.8" height="9.8" fill="#FF0000"/>
<text transform="translate(349.9,447) scale(0.93,1)" font-family='"Liberation Serif", serif' font-size="15" font-weight="normal" text-anchor="start" >H120</text>
<rect x="322.2" y="459.6" width="17.8" height="9.8" fill="#FFFF00"/>
<text transform="translate(349.9,469.8) scale(0.93,1)" font-family='"Liberation Serif", serif' font-size="15" font-weight="normal" text-anchor="start" >4/91</text>
<text x="10.5" y="303.7" font-family='"Liberation Sans", sans-serif' font-size="20" font-weight="normal" text-anchor="start" >C</text>
<text transform="translate(97,308.8) scale(0.98,1)" font-family='"Liberation Sans", sans-serif' font-size="16.3" font-weight="bold" text-anchor="start" >Muscular stomach</text>
<text transform="translate(10.6,561.2) rotate(-90) scale(1.0,1.0)" font-family='"Liberation Sans", sans-serif' font-size="13.5" font-weight="bold">Viral RNA</text>
<text transform="translate(11.3,490.6) rotate(-90) scale(0.99,0.95)" font-family='"Liberation Serif", serif' font-size="14" font-weight="bold">Log<tspan font-size="9" dy="4.2">10</tspan><tspan dy="-4.2">copies/μl</tspan></text>
<line x1="437.2" y1="413.1" x2="437.2" y2="567.2" stroke="#000" stroke-width="2.0"/>
<line x1="431.4" y1="566.2" x2="437.2" y2="566.2" stroke="#000" stroke-width="2.0"/>
<text transform="translate(428.2,570.6) scale(0.92,1)" font-family='"Liberation Serif", serif' font-size="13" font-weight="bold" text-anchor="end" >0</text>
<line x1="431.4" y1="515.5" x2="437.2" y2="515.5" stroke="#000" stroke-width="2.0"/>
<text transform="translate(428.2,519.9) scale(0.92,1)" font-family='"Liberation Serif", serif' font-size="13" font-weight="bold" text-anchor="end" >2</text>
<line x1="431.4" y1="464.8" x2="437.2" y2="464.8" stroke="#000" stroke-width="2.0"/>
<text transform="translate(428.2,469.2) scale(0.92,1)" font-family='"Liberation Serif", serif' font-size="13" font-weight="bold" text-anchor="end" >4</text>
<line x1="431.4" y1="414.1" x2="437.2" y2="414.1" stroke="#000" stroke-width="2.0"/>
<text transform="translate(428.2,418.5) scale(0.92,1)" font-family='"Liberation Serif", serif' font-size="13" font-weight="bold" text-anchor="end" >6</text>
<line x1="431.4" y1="566.2" x2="699.5" y2="566.2" stroke="#000" stroke-width="2.0"/>
<line x1="463.6" y1="566.2" x2="463.6" y2="572.5" stroke="#000" stroke-width="2.0"/>
<text transform="translate(463.6,588) scale(0.91,1)" font-family='"Liberation Serif", serif' font-size="13.3" font-weight="bold" text-anchor="middle" >4dpi</text>
<line x1="533.45" y1="566.2" x2="533.45" y2="572.5" stroke="#000" stroke-width="2.0"/>
<text transform="translate(533.45,588) scale(0.91,1)" font-family='"Liberation Serif", serif' font-size="13.3" font-weight="bold" text-anchor="middle" >9dpi</text>
<line x1="603.3" y1="566.2" x2="603.3" y2="572.5" stroke="#000" stroke-width="2.0"/>
<text transform="translate(603.3,588) scale(0.91,1)" font-family='"Liberation Serif", serif' font-size="13.3" font-weight="bold" text-anchor="middle" >16dpi</text>
<line x1="673.15" y1="566.2" x2="673.15" y2="572.5" stroke="#000" stroke-width="2.0"/>
<text transform="translate(673.15,588) scale(0.91,1)" font-family='"Liberation Serif", serif' font-size="13.3" font-weight="bold" text-anchor="middle" >23dpi</text>
<rect x="441.85" y="540.85" width="10.3" height="25.35" fill="#0000FF"/>
<rect x="458.45" y="499.53" width="10.3" height="66.67" fill="#FF0000"/>
<line x1="463.6" y1="499.53" x2="463.6" y2="490.66" stroke="#333333" stroke-width="1.0"/>
<line x1="460.35" y1="490.66" x2="466.85" y2="490.66" stroke="#333333" stroke-width="1.0"/>
<rect x="475.05" y="495.98" width="10.3" height="70.22" fill="#FFFF00"/>
<line x1="480.2" y1="495.98" x2="480.2" y2="486.6" stroke="#333333" stroke-width="1.0"/>
<line x1="476.95" y1="486.6" x2="483.45" y2="486.6" stroke="#333333" stroke-width="1.0"/>
<rect x="511.7" y="540.85" width="10.3" height="25.35" fill="#0000FF"/>
<rect x="528.3" y="478.24" width="10.3" height="87.96" fill="#FF0000"/>
<line x1="533.45" y1="478.24" x2="533.45" y2="456.69" stroke="#333333" stroke-width="1.0"/>
<line x1="530.2" y1="456.69" x2="536.7" y2="456.69" stroke="#333333" stroke-width="1.0"/>
<rect x="544.9" y="480.77" width="10.3" height="85.43" fill="#FFFF00"/>
<line x1="550.05" y1="480.77" x2="550.05" y2="457.7" stroke="#333333" stroke-width="1.0"/>
<line x1="546.8" y1="457.7" x2="553.3" y2="457.7" stroke="#333333" stroke-width="1.0"/>
<rect x="581.55" y="540.85" width="10.3" height="25.35" fill="#0000FF"/>
<rect x="598.15" y="442.24" width="10.3" height="123.96" fill="#FF0000"/>
<line x1="603.3" y1="442.24" x2="603.3" y2="424.24" stroke="#333333" stroke-width="1.0"/>
<line x1="600.05" y1="424.24" x2="606.55" y2="424.24" stroke="#333333" stroke-width="1.0"/>
<rect x="614.75" y="476.21" width="10.3" height="89.99" fill="#FFFF00"/>
<line x1="619.9" y1="476.21" x2="619.9" y2="461.76" stroke="#333333" stroke-width="1.0"/>
<line x1="616.65" y1="461.76" x2="623.15" y2="461.76" stroke="#333333" stroke-width="1.0"/>
<rect x="651.4" y="540.85" width="10.3" height="25.35" fill="#0000FF"/>
<rect x="668" y="450.86" width="10.3" height="115.34" fill="#FF0000"/>
<line x1="673.15" y1="450.86" x2="673.15" y2="427.79" stroke="#333333" stroke-width="1.0"/>
<line x1="669.9" y1="427.79" x2="676.4" y2="427.79" stroke="#333333" stroke-width="1.0"/>
<rect x="684.6" y="488.38" width="10.3" height="77.82" fill="#FFFF00"/>
<line x1="689.75" y1="488.38" x2="689.75" y2="470.63" stroke="#333333" stroke-width="1.0"/>
<line x1="686.5" y1="470.63" x2="693" y2="470.63" stroke="#333333" stroke-width="1.0"/>
<path d="M447 382V336.6H480.2V346.5" fill="none" stroke="#000" stroke-width="2.0" stroke-linejoin="miter"/>
<path d="M463.6 382V372.3H480.2V477.4" fill="none" stroke="#000" stroke-width="2.0" stroke-linejoin="miter"/>
<path d="M447 532.3V404.8H463.6V481" fill="none" stroke="#000" stroke-width="2.0" stroke-linejoin="miter"/>
<path d="M458.5 321.5L458.5 329.1M455.21 323.4L461.79 327.2M461.79 323.4L455.21 327.2" stroke="#000" stroke-width="2.2" stroke-linecap="round" fill="none"/>
<path d="M468.7 321.5L468.7 329.1M465.41 323.4L471.99 327.2M471.99 323.4L465.41 327.2" stroke="#000" stroke-width="2.2" stroke-linecap="round" fill="none"/>
<text transform="translate(471.9,363.8) scale(1.03,1)" font-family='"Liberation Sans", sans-serif' font-size="12.9" font-weight="normal" text-anchor="middle" >ns</text>
<path d="M450.2 389.5L450.2 397.1M446.91 391.4L453.49 395.2M453.49 391.4L446.91 395.2" stroke="#000" stroke-width="2.2" stroke-linecap="round" fill="none"/>
<path d="M460.4 389.5L460.4 397.1M457.11 391.4L463.69 395.2M463.69 391.4L457.11 395.2" stroke="#000" stroke-width="2.2" stroke-linecap="round" fill="none"/>
<path d="M516.85 382V336.6H550.05V346.4" fill="none" stroke="#000" stroke-width="2.0" stroke-linejoin="miter"/>
<path d="M533.45 382V372.3H550.05V382" fill="none" stroke="#000" stroke-width="2.0" stroke-linejoin="miter"/>
<path d="M516.85 531.6V404.8H533.45V447.5" fill="none" stroke="#000" stroke-width="2.0" stroke-linejoin="miter"/>
<path d="M518.15 321.5L518.15 329.1M514.86 323.4L521.44 327.2M521.44 323.4L514.86 327.2" stroke="#000" stroke-width="2.2" stroke-linecap="round" fill="none"/>
<path d="M528.35 321.5L528.35 329.1M525.06 323.4L531.64 327.2M531.64 323.4L525.06 327.2" stroke="#000" stroke-width="2.2" stroke-linecap="round" fill="none"/>
<path d="M538.55 321.5L538.55 329.1M535.26 323.4L541.84 327.2M541.84 323.4L535.26 327.2" stroke="#000" stroke-width="2.2" stroke-linecap="round" fill="none"/>
<path d="M548.75 321.5L548.75 329.1M545.46 323.4L552.04 327.2M552.04 323.4L545.46 327.2" stroke="#000" stroke-width="2.2" stroke-linecap="round" fill="none"/>
<text transform="translate(541.75,363.8) scale(1.03,1)" font-family='"Liberation Sans", sans-serif' font-size="12.9" font-weight="normal" text-anchor="middle" >ns</text>
<path d="M509.85 389.5L509.85 397.1M506.56 391.4L513.14 395.2M513.14 391.4L506.56 395.2" stroke="#000" stroke-width="2.2" stroke-linecap="round" fill="none"/>
<path d="M520.05 389.5L520.05 397.1M516.76 391.4L523.34 395.2M523.34 391.4L516.76 395.2" stroke="#000" stroke-width="2.2" stroke-linecap="round" fill="none"/>
<path d="M530.25 389.5L530.25 397.1M526.96 391.4L533.54 395.2M533.54 391.4L526.96 395.2" stroke="#000" stroke-width="2.2" stroke-linecap="round" fill="none"/>
<path d="M540.45 389.5L540.45 397.1M537.16 391.4L543.74 395.2M543.74 391.4L537.16 395.2" stroke="#000" stroke-width="2.2" stroke-linecap="round" fill="none"/>
<path d="M586.7 382V336.6H619.9V349.8" fill="none" stroke="#000" stroke-width="2.0" stroke-linejoin="miter"/>
<path d="M603.3 382V372.3H619.9V382" fill="none" stroke="#000" stroke-width="2.0" stroke-linejoin="miter"/>
<path d="M586.7 531.6V404.8H603.3V415.2" fill="none" stroke="#000" stroke-width="2.0" stroke-linejoin="miter"/>
<path d="M588 321.5L588 329.1M584.71 323.4L591.29 327.2M591.29 323.4L584.71 327.2" stroke="#000" stroke-width="2.2" stroke-linecap="round" fill="none"/>
<path d="M598.2 321.5L598.2 329.1M594.91 323.4L601.49 327.2M601.49 323.4L594.91 327.2" stroke="#000" stroke-width="2.2" stroke-linecap="round" fill="none"/>
<path d="M608.4 321.5L608.4 329.1M605.11 323.4L611.69 327.2M611.69 323.4L605.11 327.2" stroke="#000" stroke-width="2.2" stroke-linecap="round" fill="none"/>
<path d="M618.6 321.5L618.6 329.1M615.31 323.4L621.89 327.2M621.89 323.4L615.31 327.2" stroke="#000" stroke-width="2.2" stroke-linecap="round" fill="none"/>
<path d="M611.6 357.2L611.6 364.8M608.31 359.1L614.89 362.9M614.89 359.1L608.31 362.9" stroke="#000" stroke-width="2.2" stroke-linecap="round" fill="none"/>
<path d="M579.7 389.5L579.7 397.1M576.41 391.4L582.99 395.2M582.99 391.4L576.41 395.2" stroke="#000" stroke-width="2.2" stroke-linecap="round" fill="none"/>
<path d="M589.9 389.5L589.9 397.1M586.61 391.4L593.19 395.2M593.19 391.4L586.61 395.2" stroke="#000" stroke-width="2.2" stroke-linecap="round" fill="none"/>
<path d="M600.1 389.5L600.1 397.1M596.81 391.4L603.39 395.2M603.39 391.4L596.81 395.2" stroke="#000" stroke-width="2.2" stroke-linecap="round" fill="none"/>
<path d="M610.3 389.5L610.3 397.1M607.01 391.4L613.59 395.2M613.59 391.4L607.01 395.2" stroke="#000" stroke-width="2.2" stroke-linecap="round" fill="none"/>
<path d="M656.55 382V336.6H689.75V349.8" fill="none" stroke="#000" stroke-width="2.0" stroke-linejoin="miter"/>
<path d="M673.15 382V372.3H689.75V382" fill="none" stroke="#000" stroke-width="2.0" stroke-linejoin="miter"/>
<path d="M656.55 531.6V404.8H673.15V418.3" fill="none" stroke="#000" stroke-width="2.0" stroke-linejoin="miter"/>
<path d="M662.95 321.5L662.95 329.1M659.66 323.4L666.24 327.2M666.24 323.4L659.66 327.2" stroke="#000" stroke-width="2.2" stroke-linecap="round" fill="none"/>
<path d="M673.15 321.5L673.15 329.1M669.86 323.4L676.44 327.2M676.44 323.4L669.86 327.2" stroke="#000" stroke-width="2.2" stroke-linecap="round" fill="none"/>
<path d="M683.35 321.5L683.35 329.1M680.06 323.4L686.64 327.2M686.64 323.4L680.06 327.2" stroke="#000" stroke-width="2.2" stroke-linecap="round" fill="none"/>
<path d="M681.45 357.2L681.45 364.8M678.16 359.1L684.74 362.9M684.74 359.1L678.16 362.9" stroke="#000" stroke-width="2.2" stroke-linecap="round" fill="none"/>
<path d="M649.55 389.5L649.55 397.1M646.26 391.4L652.84 395.2M652.84 391.4L646.26 395.2" stroke="#000" stroke-width="2.2" stroke-linecap="round" fill="none"/>
<path d="M659.75 389.5L659.75 397.1M656.46 391.4L663.04 395.2M663.04 391.4L656.46 395.2" stroke="#000" stroke-width="2.2" stroke-linecap="round" fill="none"/>
<path d="M669.95 389.5L669.95 397.1M666.66 391.4L673.24 395.2M673.24 391.4L666.66 395.2" stroke="#000" stroke-width="2.2" stroke-linecap="round" fill="none"/>
<path d="M680.15 389.5L680.15 397.1M676.86 391.4L683.44 395.2M683.44 391.4L676.86 395.2" stroke="#000" stroke-width="2.2" stroke-linecap="round" fill="none"/>
<rect x="727.8" y="421.8" width="19.3" height="11.9" fill="#0000FF"/>
<text transform="translate(756,433.2) scale(0.89,1)" font-family='"Liberation Sans", sans-serif' font-size="14.5" font-weight="normal" text-anchor="start" >Control</text>
<rect x="727.8" y="444" width="19.3" height="11.9" fill="#FF0000"/>
<text transform="translate(756,454.8) scale(0.89,1)" font-family='"Liberation Serif", serif' font-size="15" font-weight="normal" text-anchor="start" >H120</text>
<rect x="727.8" y="466.8" width="19.3" height="10.2" fill="#FFFF00"/>
<text transform="translate(756,476.4) scale(0.89,1)" font-family='"Liberation Serif", serif' font-size="15" font-weight="normal" text-anchor="start" >4/91</text>
<text x="379.5" y="303.6" font-family='"Liberation Sans", sans-serif' font-size="20" font-weight="normal" text-anchor="start" >D</text>
<text transform="translate(493.5,308.2) scale(0.948,1)" font-family='"Liberation Sans", sans-serif' font-size="16.3" font-weight="bold" text-anchor="start" >Glandular stomach</text>
<text transform="translate(414.6,565) rotate(-90) scale(0.894,1.0)" font-family='"Liberation Sans", sans-serif' font-size="15" font-weight="bold">Vrial RNA</text>
<text transform="translate(414.2,496.0) rotate(-90) scale(0.93,0.92)" font-family='"Liberation Serif", serif' font-size="14" font-weight="bold">Log<tspan font-size="9" dy="4.2">10</tspan><tspan dy="-4.2">copies/μl</tspan></text>
</svg></body></html>
